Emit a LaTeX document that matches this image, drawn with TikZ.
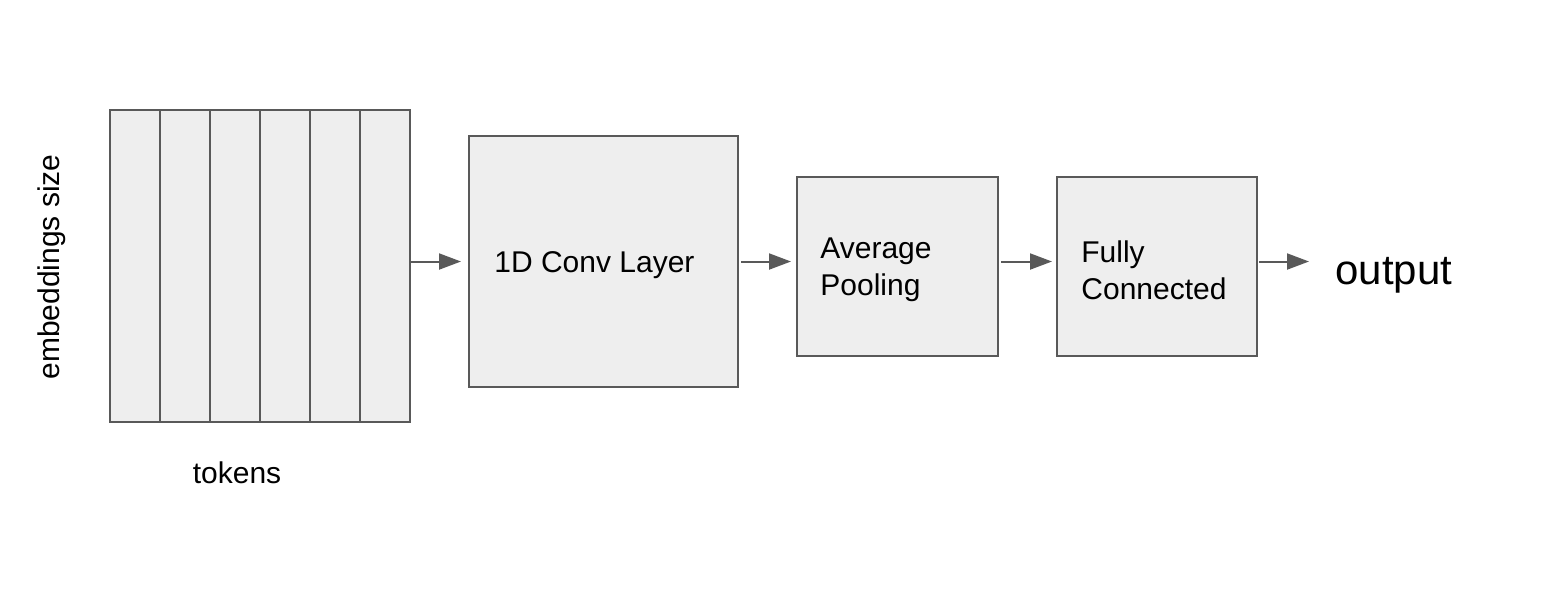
\documentclass[tikz,border=0pt]{standalone}
\usepackage{fontspec}
\setmainfont{Liberation Sans}
\usetikzlibrary{arrows.meta}
\definecolor{edgegray}{HTML}{595959}
\definecolor{boxfill}{HTML}{EEEEEE}
\begin{document}
\begin{tikzpicture}[x=0.5pt,y=-0.5pt,
  cell/.style={draw=edgegray,fill=boxfill,line width=1pt,minimum width=25pt,minimum height=156pt,inner sep=0pt},
  layerbox/.style={draw=edgegray,fill=boxfill,line width=1pt,inner sep=0pt},
  boxtext/.style={align=left,inner sep=0pt,anchor=west,font=\fontsize{15}{18.5}\selectfont},
  conn/.style={draw=edgegray,line width=1pt,-{Triangle[length=11pt,width=8pt]}},
  lbl/.style={font=\fontsize{15}{18}\selectfont,inner sep=0pt}]
\useasboundingbox (0,0) rectangle (1554,602);
\foreach \i in {0,...,5} {
  \node[cell] (c\i) at (135+50*\i,266) {};
}
\node[layerbox,minimum width=134.5pt,minimum height=125.5pt] (conv) at (603.5,261.5) {};
\node[layerbox,minimum width=100.5pt,minimum height=89.5pt] (avg) at (897.5,266.5) {};
\node[layerbox,minimum width=100pt,minimum height=89.5pt] (fc) at (1157,266.5) {};
\node[boxtext] (convt) at (494,265) {1D Conv Layer};
\node[boxtext] (avgt) at (820,270) {Average\\Pooling};
\node[boxtext] (fct) at (1081,270) {Fully\\Connected};
\node[font=\fontsize{21}{25}\selectfont,inner sep=0pt,anchor=base west] (out) at (1335,284) {output};
\node[lbl] (tok) at (237,473) {tokens};
\node[lbl,rotate=90] (emb) at (52,267) {embeddings size};
\draw[conn,shorten >=3.5pt] (c5.east |- conv.west) -- (conv.west);
\draw[conn,shorten <=1pt,shorten >=2.5pt] (conv.east) -- (conv.east -| avg.west);
\draw[conn,shorten <=1pt,shorten >=2pt] (avg.east |- conv.east) -- (conv.east -| fc.west);
\draw[conn,shorten <=0.5pt,shorten >=13pt] (fc.east |- conv.east) -- (conv.east -| out.west);
\end{tikzpicture}
\end{document}
